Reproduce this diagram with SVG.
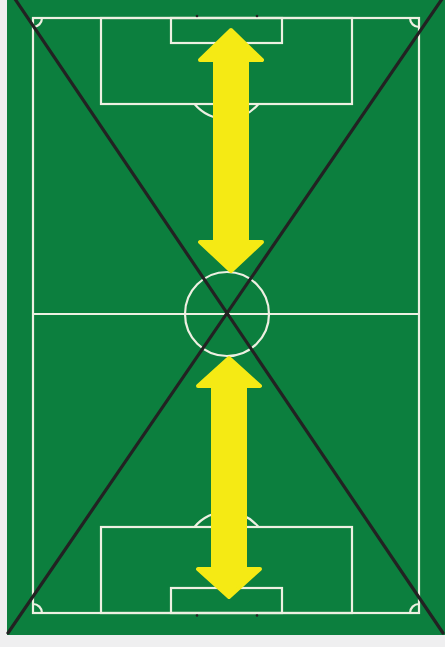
<svg xmlns="http://www.w3.org/2000/svg" width="445" height="647" viewBox="0 0 445 647">
<style>
.ln{fill:none;stroke:#eef0e2;stroke-width:2.2}
.arw{fill:#f5ea14;stroke:#f5ea14;stroke-width:4;stroke-linejoin:round}
.diag{stroke:#222222;stroke-width:3.2;stroke-linecap:round}
.post{fill:#222222}
</style>
<rect x="0" y="0" width="445" height="647" fill="#efeff0"/>
<rect x="7" y="0" width="438" height="635" fill="#0c7f3e"/>
<g id="pitch">
<rect class="ln" x="33" y="18" width="386" height="595"/>
<line class="ln" x1="33" y1="314" x2="419" y2="314"/>
<circle class="ln" cx="227" cy="314" r="42"/>
<rect class="ln" x="101" y="18" width="251" height="86"/>
<rect class="ln" x="171" y="18" width="111" height="25"/>
<rect class="ln" x="101" y="527" width="251" height="86"/>
<rect class="ln" x="171" y="588" width="111" height="25"/>
<path class="ln" d="M194.5 104 A42 42 0 0 0 258.5 104"/>
<path class="ln" d="M194.5 527 A42 42 0 0 1 258.5 527"/>
<path class="ln" d="M42 18 A9 9 0 0 1 33 27"/>
<path class="ln" d="M410 18 A9 9 0 0 0 419 27"/>
<path class="ln" d="M33 604 A9 9 0 0 1 42 613"/>
<path class="ln" d="M410 613 A9 9 0 0 1 419 604"/>
<circle class="post" cx="197" cy="16" r="1.3"/>
<circle class="post" cx="257" cy="16" r="1.3"/>
<circle class="post" cx="197" cy="615.5" r="1.3"/>
<circle class="post" cx="257" cy="615.5" r="1.3"/>
</g>
<g id="arrow-top">
<polygon class="arw" points="231,30 262,60 247,60 247,242 262,242 231,271 200,242 215,242 215,60 200,60"/>
</g>
<g id="arrow-bottom">
<polygon class="arw" points="229,358 260,386 245,386 245,569 260,569 229,597 198,569 213,569 213,386 198,386"/>
</g>
<g id="connectors">
<line class="diag" x1="15" y1="-1" x2="443" y2="633"/>
<line class="diag" x1="442" y1="-1" x2="8" y2="633"/>
</g>
</svg>
